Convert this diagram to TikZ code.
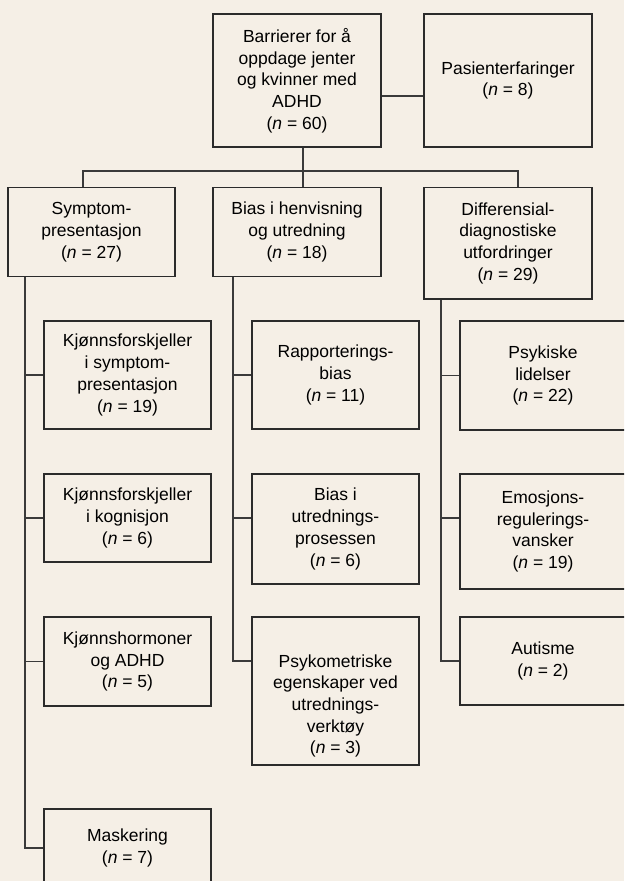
\documentclass[tikz,border=0pt]{standalone}
\usepackage{fontspec}
\setmainfont{Liberation Sans}
\usepackage{xcolor}
\definecolor{bakgrunn}{HTML}{F5EFE6}
\definecolor{strek}{HTML}{2B2B2B}
\definecolor{linje}{HTML}{3A3A3A}
\tikzset{
    tekst/.style={
        align=center,
        inner sep=0mm,
        font=\fontsize{17.5}{21.7}\selectfont
    },
    boks/.style={
        tekst,
        draw=strek,
        line width=1.2pt,
        fill=bakgrunn
    },
    gren/.style={draw=linje,line width=1.2pt}
}
\newcommand{\boks}[6] {
    \node[boks,minimum width=#4pt,minimum height=#5pt] (#1) at (#2, #3) {#6};
}

\begin{document}
\begin{tikzpicture}[x=1pt,y=-1pt]
        \fill[bakgrunn] (0,0) rectangle (624,881);
        \useasboundingbox (0,0) rectangle (624,881);
        \clip (0,0) rectangle (624,881);
        % topp
        \boks{topp}{297}{80.5}{168}{133}{Barrierer for å\\oppdage jenter\\og kvinner med\\ADHD\\(\textit{n} = 60)}
        \boks{pas}{508}{80.5}{168}{133}{Pasienterfaringer\\(\textit{n} = 8)}
        % tre hovedtema
        \boks{sym}{91.5}{232}{167}{89}{Symptom-\\presentasjon\\(\textit{n} = 27)}
        \boks{bias}{297}{232}{168}{89}{Bias i henvisning\\og utredning\\(\textit{n} = 18)}
        \boks{diff}{508}{243.25}{168}{111.5}{Differensial-\\diagnostiske\\utfordringer\\(\textit{n} = 29)}
        % symptompresentasjon
        \boks{k1}{127.5}{375}{167}{108}{Kjønnsforskjeller\\i symptom-\\presentasjon\\(\textit{n} = 19)}
        \boks{k2}{127.5}{518}{167}{88}{Kjønnsforskjeller\\i kognisjon\\(\textit{n} = 6)}
        \boks{k3}{127.5}{661.5}{167}{89}{Kjønnshormoner\\og ADHD\\(\textit{n} = 5)}
        \boks{mask}{127.5}{848}{167}{78}{Maskering\\(\textit{n} = 7)}
        % henvisning og utredning
        \boks{rap}{335.5}{375}{167}{108}{Rapporterings-\\bias\\(\textit{n} = 11)}
        \boks{bu}{335.5}{529}{167}{110}{Bias i\\utrednings-\\prosessen\\(\textit{n} = 6)}
        \boks{psy}{335.5}{691}{167}{148}{}
        \node[tekst] (psytekst) at ([yshift=-15pt]psy.center) {Psykometriske\\egenskaper ved\\utrednings-\\verktøy\\(\textit{n} = 3)};
        % differensialdiagnostikk
        \boks{psyk}{543}{375.5}{166}{109}{Psykiske\\lidelser\\(\textit{n} = 22)}
        \boks{emo}{543}{531.5}{166}{115}{Emosjons-\\regulerings-\\vansker\\(\textit{n} = 19)}
        \boks{aut}{543}{661}{166}{88}{Autisme\\(\textit{n} = 2)}
        % greiner
        \draw[gren] ([yshift=-15.5pt]topp.east) -- ([yshift=-15.5pt]topp.east -| pas.west);
        \draw[gren] ([xshift=6pt]topp.south) -- ([xshift=6pt]topp.south |- bias.north);
        \coordinate (nav) at (303,171);
        \draw[gren] ([xshift=-8.5pt]sym.north) |- (nav) -| ([xshift=10pt]diff.north);
        \coordinate (vs) at ([xshift=-66.5pt]sym.south);
        \draw[gren] (vs) |- (mask.west);
        \foreach \b in {k1,k2,k3}
            \draw[gren] (vs) |- (\b.west);
        \coordinate (vm) at ([xshift=-64pt]bias.south);
        \draw[gren] (vm) |- ([yshift=30pt]psy.west);
        \draw[gren] (vm) |- (rap.west);
        \draw[gren] (vm) |- ([yshift=11pt]bu.west);
        \coordinate (vh) at ([xshift=-67pt]diff.south);
        \draw[gren] (vh) |- (aut.west);
        \draw[gren] (vh) |- (psyk.west);
        \draw[gren] (vh) |- ([yshift=13.5pt]emo.west);
    \end{tikzpicture}
\end{document}
